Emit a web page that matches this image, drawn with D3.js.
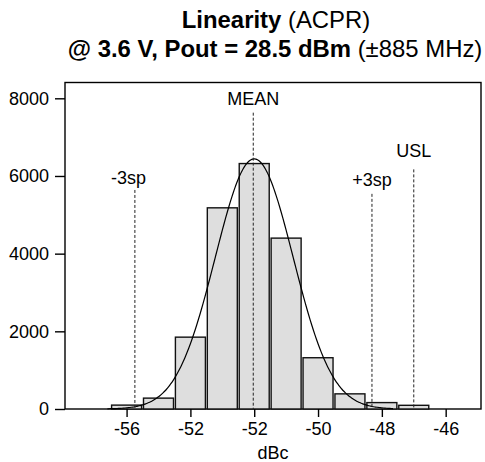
<!DOCTYPE html>
<html><head><meta charset="utf-8">
<script src="https://cdn.jsdelivr.net/npm/d3@7"></script>
<style>
html,body{margin:0;padding:0;background:#fff;}
text{font-family:"Liberation Sans",Arial,Helvetica,sans-serif;fill:#000;}
</style></head>
<body>
<svg id="chart" width="485" height="462"></svg>
<script>
// ---- data ----
const binCenters = [-56, -55, -54, -53, -52, -51, -50, -49, -48, -47];
const binCounts  = [100, 280, 1850, 5180, 6320, 4400, 1320, 390, 165, 95];
const xTickValues = [-56, -54, -52, -50, -48, -46];
const xTickLabels = ["-56", "-52", "-52", "-50", "-48", "-46"];
const yTickValues = [0, 2000, 4000, 6000, 8000];
const markerNames  = ["-3sp", "MEAN", "+3sp", "USL"];
const markerValues = [-55.74, -52.03, -48.31, -47.0];
const markerTops   = [5640, 7630, 5540, 6170];
const markerLabelX = [-55.94, -52.03, -48.31, -47.0];
const markerLabelY = [5790, 7840, 5740, 6490];
const fitMean = -52.0;
const fitSigma = 1.22;
const fitTotal = 19700;

// ---- layout ----
const svg = d3.select("#chart");
const L = 65, R = 481, T = 82.5, B = 409;
const x = d3.scaleLinear().domain([-57.93, -44.893]).range([L, R]);
const y = d3.scaleLinear().domain([0, 8407]).range([B, T]);

// frame
svg.append("rect").attr("x", L).attr("y", T).attr("width", R - L).attr("height", B - T)
  .attr("fill", "none").attr("stroke", "#000").attr("stroke-width", 1.4);

// bars
const half = 0.47;
svg.append("g").selectAll("rect").data(binCenters).join("rect")
  .attr("x", (d) => x(d - half))
  .attr("width", (d) => x(d + half) - x(d - half))
  .attr("y", (d, i) => y(binCounts[i]))
  .attr("height", (d, i) => y(0) - y(binCounts[i]))
  .attr("fill", "#dedede").attr("stroke", "#111").attr("stroke-width", 1.4);

// fitted normal curve
const curveXs = d3.range(-56.6, -47.6, 0.05);
const pdf = (v) => fitTotal / (fitSigma * Math.sqrt(2 * Math.PI)) * Math.exp(-((v - fitMean) ** 2) / (2 * fitSigma ** 2));
svg.append("path").datum(curveXs)
  .attr("d", d3.line().x((d) => x(d)).y((d) => y(pdf(d))).curve(d3.curveBasis))
  .attr("fill", "none").attr("stroke", "#000").attr("stroke-width", 1.2);

// marker lines
markerNames.forEach((name, i) => {
  const xv = x(markerValues[i]);
  svg.append("line").attr("x1", xv).attr("x2", xv).attr("y1", y(markerTops[i])).attr("y2", B)
    .attr("stroke", "#222").attr("stroke-width", 1).attr("stroke-dasharray", "3,2");
  svg.append("text").attr("x", x(markerLabelX[i])).attr("y", y(markerLabelY[i]))
    .attr("text-anchor", "middle").attr("font-size", 18).text(name);
});

// x axis
const xAxis = d3.axisBottom(x).tickValues(xTickValues)
  .tickFormat((d, i) => xTickLabels[i]).tickSize(8).tickPadding(5);
const gx = svg.append("g").attr("transform", `translate(0,${B})`).call(xAxis);
gx.select(".domain").remove();
gx.selectAll("line").attr("stroke", "#000").attr("stroke-width", 1.4);
gx.selectAll("text").attr("font-size", 18).attr("font-family", "Liberation Sans, Arial, sans-serif");

// y axis
const yAxis = d3.axisLeft(y).tickValues(yTickValues).tickFormat(d3.format("d")).tickSize(10).tickPadding(6);
const gy = svg.append("g").attr("transform", `translate(${L},0)`).call(yAxis);
gy.select(".domain").remove();
gy.selectAll("line").attr("stroke", "#000").attr("stroke-width", 1.4);
gy.selectAll("text").attr("font-size", 18).attr("font-family", "Liberation Sans, Arial, sans-serif");

// x label
svg.append("text").attr("x", 273).attr("y", 459).attr("text-anchor", "middle")
  .attr("font-size", 18).text("dBc");

// title
const t1 = svg.append("text").attr("x", 276).attr("y", 28).attr("text-anchor", "middle").attr("font-size", 23.9);
t1.append("tspan").attr("font-weight", "bold").text("Linearity");
t1.append("tspan").text(" (ACPR)");
const t2 = svg.append("text").attr("x", 275).attr("y", 57).attr("text-anchor", "middle").attr("font-size", 23.9);
t2.append("tspan").attr("font-weight", "bold").text("@ 3.6 V, Pout = 28.5 dBm");
t2.append("tspan").text(" (±885 MHz)");
</script>
</body></html>
